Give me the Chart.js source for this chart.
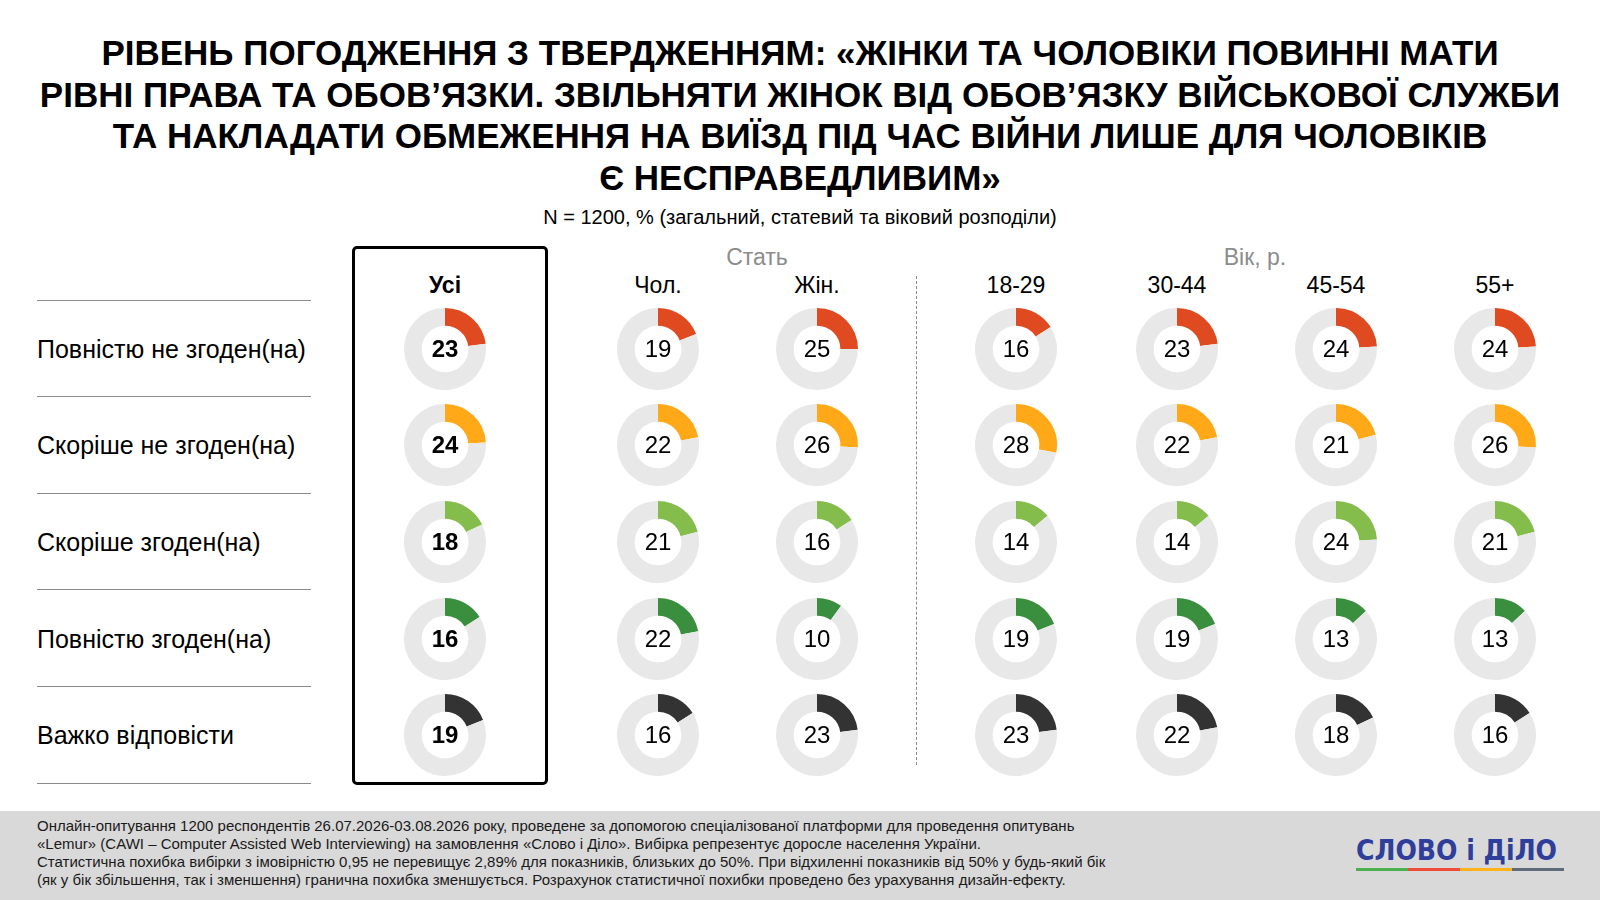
<!DOCTYPE html>
<html lang="uk">
<head>
    <meta charset="UTF-8">
    <title>Рівень погодження з твердженням</title>
    <script src="https://cdn.jsdelivr.net/npm/chart.js@4.4.1/dist/chart.umd.min.js"></script>
    <style>
        body {
            margin: 0;
            padding: 0;
            background: #fff;
            font-family: 'Liberation Sans', Arial, sans-serif;
            color: #000;
        }
        .page {
            position: relative;
            width: 1600px;
            height: 900px;
            overflow: hidden;
        }
        .abs {
            position: absolute;
            white-space: nowrap;
        }
        .title {
            left: 0;
            width: 1600px;
            top: 32px;
            text-align: center;
            font-weight: bold;
            font-size: 35px;
            line-height: 41.5px;
        }
        .subtitle {
            left: 0;
            width: 1600px;
            top: 206px;
            text-align: center;
            font-size: 20px;
        }
        .group {
            font-size: 23px;
            color: #8c8c8c;
            transform: translate(-50%, -50%);
        }
        .head {
            font-size: 23px;
            transform: translate(-50%, -50%);
        }
        .rowlabel {
            left: 37px;
            font-size: 25px;
            transform: translateY(-50%);
        }
        .rowline {
            left: 37px;
            width: 274px;
            height: 0;
            border-top: 1.5px solid #8a8a8a;
        }
        .box {
            left: 352px;
            top: 246px;
            width: 190px;
            height: 533px;
            border: 3px solid #000;
            border-radius: 5px;
        }
        .dash {
            left: 916px;
            top: 276px;
            height: 489px;
            border-left: 1px dashed #8a8a8a;
        }
        .donut {
            position: absolute;
            width: 96px;
            height: 96px;
        }
        .footer {
            left: 0;
            top: 811px;
            width: 1600px;
            height: 89px;
            background: #d9d9d9;
        }
        .note {
            left: 37px;
            top: 817px;
            font-size: 15px;
            line-height: 18px;
            color: #1a1a1a;
        }
        .logo {
            left: 1356px;
            top: 836px;
            font-family: 'DejaVu Sans Condensed', 'DejaVu Sans', sans-serif;
            font-weight: bold;
            font-size: 28px;
            line-height: 30px;
            color: #2f3e9b;
        }
        .stripe {
            top: 868px;
            height: 3px;
            width: 52px;
        }
    </style>
</head>
<body>
<div class="page" id="page">
    <div class="abs title">РІВЕНЬ ПОГОДЖЕННЯ З ТВЕРДЖЕННЯМ: «ЖІНКИ ТА ЧОЛОВІКИ ПОВИННІ МАТИ<br>РІВНІ ПРАВА ТА ОБОВ’ЯЗКИ. ЗВІЛЬНЯТИ ЖІНОК ВІД ОБОВ’ЯЗКУ ВІЙСЬКОВОЇ СЛУЖБИ<br>ТА НАКЛАДАТИ ОБМЕЖЕННЯ НА ВИЇЗД ПІД ЧАС ВІЙНИ ЛИШЕ ДЛЯ ЧОЛОВІКІВ<br>Є НЕСПРАВЕДЛИВИМ»</div>
    <div class="abs subtitle">N = 1200, % (загальний, статевий та віковий розподіли)</div>

    <div class="abs box"></div>
    <div class="abs dash"></div>

    <div class="abs group" style="left:757px; top:257px;">Стать</div>
    <div class="abs group" style="left:1255px; top:257px;">Вік, р.</div>

    <div class="abs footer"></div>
    <div class="abs note">Онлайн-опитування 1200 респондентів 26.07.2026-03.08.2026 року, проведене за допомогою спеціалізованої платформи для проведення опитувань<br>«Lemur» (CAWI – Computer Assisted Web Interviewing) на замовлення «Слово і Діло». Вибірка репрезентує доросле населення України.<br>Статистична похибка вибірки з імовірністю 0,95 не перевищує 2,89% для показників, близьких до 50%. При відхиленні показників від 50% у будь-який бік<br>(як у бік збільшення, так і зменшення) гранична похибка зменшується. Розрахунок статистичної похибки проведено без урахування дизайн-ефекту.</div>
    <div class="abs logo">СЛОВО і ДіЛО</div>
    <div class="abs stripe" style="left:1356px; background:#4caf50;"></div>
    <div class="abs stripe" style="left:1408px; background:#f04a3a;"></div>
    <div class="abs stripe" style="left:1460px; background:#ffb31a;"></div>
    <div class="abs stripe" style="left:1512px; background:#5f6b7a;"></div>
</div>

<script>
    // Answers (rows) and respondent groups (columns)
    const answers = ['Повністю не згоден(на)', 'Скоріше не згоден(на)', 'Скоріше згоден(на)', 'Повністю згоден(на)', 'Важко відповісти'];
    const groups = ['Усі', 'Чол.', 'Жін.', '18-29', '30-44', '45-54', '55+'];
    const answerColors = ['#df4a20', '#ffa918', '#84bd4c', '#3a8f3f', '#333333'];

    // Share of each answer, %, per group (same order as answers)
    const allValues   = [23, 24, 18, 16, 19];
    const menValues   = [19, 22, 21, 22, 16];
    const womenValues = [25, 26, 16, 10, 23];
    const age1829     = [16, 28, 14, 19, 23];
    const age3044     = [23, 22, 14, 19, 22];
    const age4554     = [24, 21, 24, 13, 18];
    const age55plus   = [24, 26, 21, 13, 16];
    const groupValues = [allValues, menValues, womenValues, age1829, age3044, age4554, age55plus];

    // layout
    const colX = [445, 658, 817, 1016, 1177, 1336, 1495];
    const rowY = [349, 445, 542, 639, 735];
    const lineY = [300, 396, 493, 589, 686, 783];
    const headY = 285;

    const page = document.getElementById('page');

    function addDiv(cls, text, style) {
        const d = document.createElement('div');
        d.className = 'abs ' + cls;
        d.textContent = text;
        Object.assign(d.style, style);
        page.appendChild(d);
        return d;
    }

    lineY.forEach(y => addDiv('rowline', '', { top: y + 'px' }));
    answers.forEach((a, i) => addDiv('rowlabel', a, { top: rowY[i] + 'px' }));
    groups.forEach((g, j) => addDiv('head', g, {
        left: colX[j] + 'px', top: headY + 'px', fontWeight: j === 0 ? 'bold' : 'normal'
    }));

    // number in the hole of the doughnut
    const centerLabel = {
        id: 'centerLabel',
        afterDraw(chart, args, opts) {
            const arc = chart.getDatasetMeta(0).data[0];
            const ctx = chart.ctx;
            ctx.save();
            ctx.font = (opts.bold ? 'bold ' : '') + '24px "Liberation Sans", Arial, sans-serif';
            ctx.fillStyle = '#000';
            ctx.textAlign = 'center';
            ctx.textBaseline = 'middle';
            ctx.fillText(String(chart.data.datasets[0].data[0]), arc.x, arc.y + 1);
            ctx.restore();
        }
    };

    groupValues.forEach((vals, j) => {
        vals.forEach((v, i) => {
            const canvas = document.createElement('canvas');
            canvas.className = 'donut';
            canvas.width = 96;
            canvas.height = 96;
            canvas.style.left = (colX[j] - 48) + 'px';
            canvas.style.top = (rowY[i] - 48) + 'px';
            page.appendChild(canvas);

            new Chart(canvas, {
                type: 'doughnut',
                data: {
                    labels: [answers[i], ''],
                    datasets: [{
                        data: [v, 100 - v],
                        backgroundColor: [answerColors[i], '#e8e8e8'],
                        borderWidth: 0
                    }]
                },
                options: {
                    responsive: false,
                    animation: false,
                    events: [],
                    radius: 41,
                    cutout: '57%',
                    plugins: {
                        legend: { display: false },
                        tooltip: { enabled: false },
                        centerLabel: { bold: j === 0 }
                    }
                },
                plugins: [centerLabel]
            });
        });
    });
</script>
</body>
</html>
